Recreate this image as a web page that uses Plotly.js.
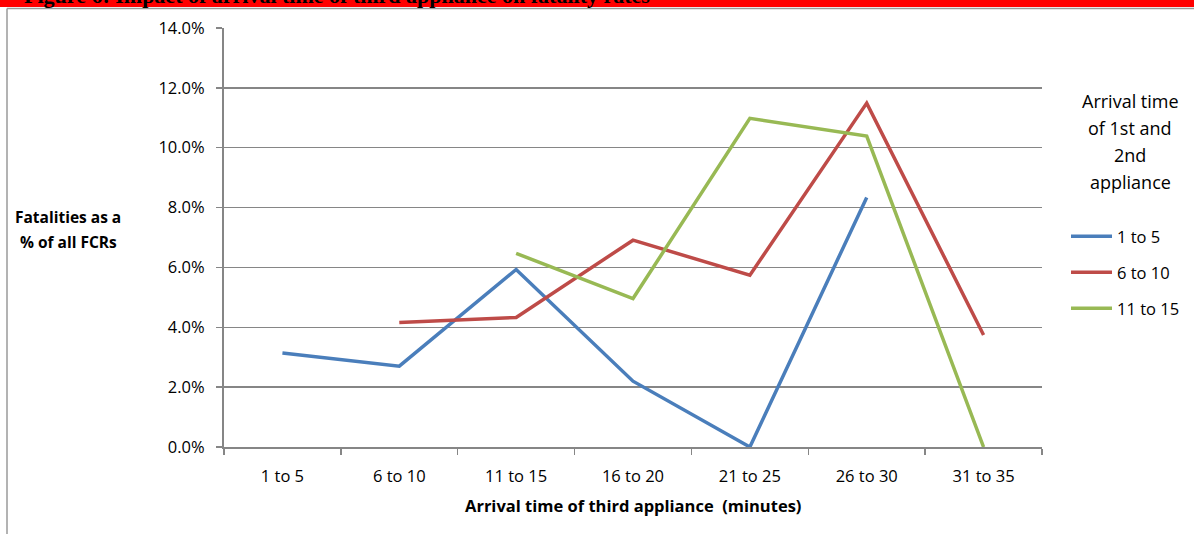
<!DOCTYPE html>
<html>
<head>
<meta charset="utf-8">
<script src="https://cdn.plot.ly/plotly-3.0.1.min.js"></script>
<style>
html,body{margin:0;padding:0;background:#fff;}
#chart{width:1194px;height:534px;}
</style>
</head>
<body>
<div id="chart"></div>
<script>
var categories = ["1 to 5", "6 to 10", "11 to 15", "16 to 20", "21 to 25", "26 to 30", "31 to 35"];
var seriesNames = ["1 to 5", "6 to 10", "11 to 15"];
var series1to5 = [0.0314, 0.0270, 0.0593, 0.0220, 0.0000, 0.0834, null];
var series6to10 = [null, 0.0416, 0.0433, 0.0691, 0.0574, 0.1149, 0.0374];
var series11to15 = [null, null, 0.0647, 0.0496, 0.1098, 0.1039, 0.0000];
var yTickValues = [0, 0.02, 0.04, 0.06, 0.08, 0.10, 0.12, 0.14];
var colors = ["#4A7EBB", "#BE4B48", "#98B954"];

var W = 1194, H = 534;
var L = 224, R = 1042, T = 28, B = 447;
function px(x){ return (x - L) / (R - L); }
function py(y){ return (B - y) / (B - T); }

var font = "'Open Sans', sans-serif";
var allSeries = [series1to5, series6to10, series11to15];
var traces = allSeries.map(function(vals, i){
  return {
    x: categories, y: vals, type: "scatter", mode: "lines",
    name: seriesNames[i], legendgroup: "g" + i,
    line: {color: colors[i], width: 3.5},
    connectgaps: false, hoverinfo: "skip"
  };
});

function ann(text, x, y, size, anchor){
  return {text: text, xref: "paper", yref: "paper", x: px(x), y: py(y),
          xanchor: anchor || "center", yanchor: "middle", showarrow: false,
          font: {family: font, size: size, color: "#000"}};
}

var annotations = [
  {text: "<b>Figure 6: Impact of arrival time of third appliance on fatality rates</b>", xref: "paper", yref: "paper",
   x: px(22), y: py(10), xanchor: "left", yanchor: "bottom", showarrow: false,
   font: {family: "'Liberation Serif', serif", size: 22, color: "#000"}},
  ann("<b>Fatalities as a</b>", 68, 217, 15.5),
  ann("<b>% of all FCRs</b>", 68, 242, 15.5),
  ann("<b>Arrival time of third appliance  (minutes)</b>", 633, 505, 16.5),
  ann("Arrival time", 1130, 101, 18),
  ann("of 1st and", 1130, 128, 18),
  ann("2nd", 1130, 155, 18),
  ann("appliance", 1130, 182, 18)
];

var shapes = [
  {type: "rect", xref: "paper", yref: "paper", x0: px(-5), x1: px(W + 5), y0: py(7), y1: py(-5),
   fillcolor: "#FF0000", line: {width: 0}, layer: "below"},
  {type: "line", xref: "paper", yref: "paper", x0: px(7), x1: px(W + 5), y0: py(8.5), y1: py(8.5),
   line: {color: "#9a9a9a", width: 1.5}},
  {type: "line", xref: "paper", yref: "paper", x0: px(7), x1: px(7), y0: py(8.5), y1: py(H + 5),
   line: {color: "#9a9a9a", width: 1.5}}
];

var layout = {
  width: W, height: H,
  margin: {l: L, r: W - R, t: T, b: H - B, pad: 0, autoexpand: false},
  paper_bgcolor: "#fff", plot_bgcolor: "#fff",
  font: {family: font, size: 16, color: "#000"},
  showlegend: true,
  legend: {x: px(1066), y: py(219), xanchor: "left", yanchor: "top",
           traceorder: "grouped", tracegroupgap: 11.5, font: {family: font, size: 16.5, color: "#000"},
           itemwidth: 41, bgcolor: "rgba(0,0,0,0)"},
  xaxis: {type: "category", range: [-0.5, 6.5], showgrid: false, zeroline: false,
          showline: true, linecolor: "#868686", linewidth: 2,
          ticks: "outside", tickson: "boundaries", ticklen: 6, tickcolor: "#868686", tickwidth: 1.5,
          ticklabelstandoff: 13, automargin: false,
          tickfont: {family: font, size: 16.5, color: "#000"}, fixedrange: true},
  yaxis: {range: [0, 0.14], tickvals: yTickValues, tickformat: ".1%",
          showgrid: true, gridcolor: "#868686", gridwidth: 1.5, zeroline: false,
          showline: true, linecolor: "#868686", linewidth: 2,
          ticks: "outside", ticklen: 6, tickcolor: "#868686", tickwidth: 1.5,
          ticklabelstandoff: 8, automargin: false,
          tickfont: {family: font, size: 16.5, color: "#000"}, fixedrange: true},
  annotations: annotations,
  shapes: shapes
};

Plotly.newPlot("chart", traces, layout, {displayModeBar: false, staticPlot: true});
</script>
</body>
</html>
